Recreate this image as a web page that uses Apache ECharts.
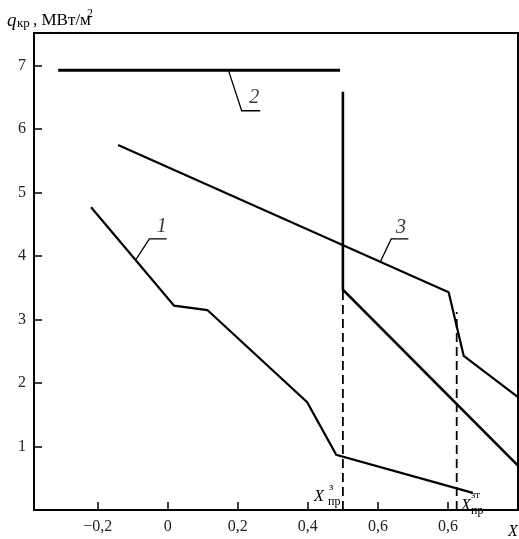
<!DOCTYPE html>
<html>
<head>
<meta charset="utf-8">
<script src="https://cdn.jsdelivr.net/npm/echarts@6/dist/echarts.min.js"></script>
<style>html,body{margin:0;padding:0;background:#fff;}#c{width:519px;height:539px;}</style>
</head>
<body>
<div id="c"></div>
<script>
// ---- data ----
const xTickValues = [-0.2, 0, 0.2, 0.4, 0.6, 0.8];
const xTickLabels = ['\u22120,2', '0', '0,2', '0,4', '0,6', '0,6'];
const yTickValues = [1, 2, 3, 4, 5, 6, 7];
const yTickLabels = ['1', '2', '3', '4', '5', '6', '7'];

const curve1 = [[-0.219, 4.77], [0.018, 3.22], [0.113, 3.15], [0.398, 1.70], [0.481, 0.87], [0.871, 0.27]];
const curve2 = [[-0.313, 6.93], [0.492, 6.93]];
const curve2b = [[0.5, 6.59], [0.5, 3.47], [1.0, 0.70]];
const curve3 = [[-0.142, 5.75], [0.802, 3.43], [0.845, 2.43], [1.0, 1.78]];
const dashZ = [[0.5, 0], [0.5, 3.47]];
const dashZT = [[0.825, 0], [0.825, 3.12]];

const leader1 = [[-0.0906, 3.95], [-0.0526, 4.27], [-0.003, 4.27]];
const leader2 = [[0.173, 6.93], [0.211, 6.29], [0.264, 6.29]];
const leader3 = [[0.607, 3.91], [0.638, 4.27], [0.687, 4.27]];
const curveLabels = [{ name: '1', value: [-0.017, 4.46] }, { name: '2', value: [0.247, 6.49] }, { name: '3', value: [0.666, 4.44] }];

const xMin = -0.382, xMax = 1.0, yMin = 0, yMax = 7.515;

const FONT = '"Liberation Serif", "DejaVu Serif", serif';

function lineSeries(data, width, type) {
  return {
    type: 'line', data: data, symbol: 'none', silent: true, animation: false,
    lineStyle: { color: '#000', width: width, type: type || 'solid', cap: 'butt', join: 'miter' }
  };
}

const chart = echarts.init(document.getElementById('c'), null, { renderer: 'canvas' });
chart.setOption({
  backgroundColor: '#fff',
  animation: false,
  grid: { left: 34, right: 1, top: 33, bottom: 29, show: true, borderColor: '#000', borderWidth: 2, backgroundColor: 'transparent' },
  xAxis: {
    type: 'value', min: xMin, max: xMax,
    axisLine: { show: true, onZero: false, lineStyle: { color: '#000', width: 2 } },
    axisTick: { show: true, inside: true, length: 8, customValues: xTickValues, lineStyle: { color: '#000', width: 1.5 } },
    axisLabel: {
      customValues: xTickValues, margin: 9, color: '#222', fontFamily: FONT, fontSize: 16,
      formatter: function (v) { const i = xTickValues.findIndex(t => Math.abs(t - v) < 1e-6); return i >= 0 ? xTickLabels[i] : ''; }
    },
    splitLine: { show: false }
  },
  yAxis: {
    type: 'value', min: yMin, max: yMax,
    axisLine: { show: true, onZero: false, lineStyle: { color: '#000', width: 2 } },
    axisTick: { show: true, inside: true, length: 8, customValues: yTickValues, lineStyle: { color: '#000', width: 1.5 } },
    axisLabel: {
      customValues: yTickValues, margin: 8, color: '#222', fontFamily: FONT, fontSize: 16,
      formatter: function (v) { const i = yTickValues.findIndex(t => Math.abs(t - v) < 1e-6); return i >= 0 ? yTickLabels[i] : ''; }
    },
    splitLine: { show: false }
  },
  series: [
    lineSeries(curve1, 2.2),
    lineSeries(curve2, 3),
    lineSeries(curve2b, 2.6),
    lineSeries(curve3, 2.2),
    lineSeries(dashZ, 1.8, [9, 5]),
    lineSeries(dashZT, 1.8, [9, 5]),
    lineSeries(leader1, 1.3),
    lineSeries(leader2, 1.3),
    lineSeries(leader3, 1.3),
    {
      type: 'scatter', data: curveLabels, symbolSize: 0, silent: true, animation: false,
      label: { show: true, position: 'inside', formatter: '{b}', color: '#000', fontFamily: FONT, fontStyle: 'italic', fontSize: 20 }
    }
  ],
  graphic: [
    // axis title q_кр, МВт/м²
    { type: 'text', left: 7, top: 11, style: { text: 'q', font: 'italic 19px ' + FONT, fill: '#000' } },
    { type: 'text', left: 17, top: 17, style: { text: 'кр', font: '13px ' + FONT, fill: '#000' } },
    { type: 'text', left: 33, top: 12, style: { text: ', МВт/м', font: '17px ' + FONT, fill: '#000' } },
    { type: 'text', left: 87, top: 8, style: { text: '2', font: '12px ' + FONT, fill: '#000' } },
    // X_пр^з
    { type: 'text', left: 314, top: 489, style: { text: 'X', font: 'italic 16px ' + FONT, fill: '#000' } },
    { type: 'text', left: 328, top: 496, style: { text: 'пр', font: '12px ' + FONT, fill: '#000' } },
    { type: 'text', left: 329, top: 482, style: { text: 'з', font: '11px ' + FONT, fill: '#000' } },
    // X_пр^зт
    { type: 'text', left: 461, top: 498, style: { text: 'X', font: 'italic 16px ' + FONT, fill: '#000' } },
    { type: 'text', left: 471, top: 505, style: { text: 'пр', font: '12px ' + FONT, fill: '#000' } },
    { type: 'text', left: 471, top: 490, style: { text: 'зт', font: '11px ' + FONT, fill: '#000' } },
    // axis name X
    { type: 'text', left: 508, top: 524, style: { text: 'X', font: 'italic 16px ' + FONT, fill: '#000' } }
  ]
});
</script>
</body>
</html>
